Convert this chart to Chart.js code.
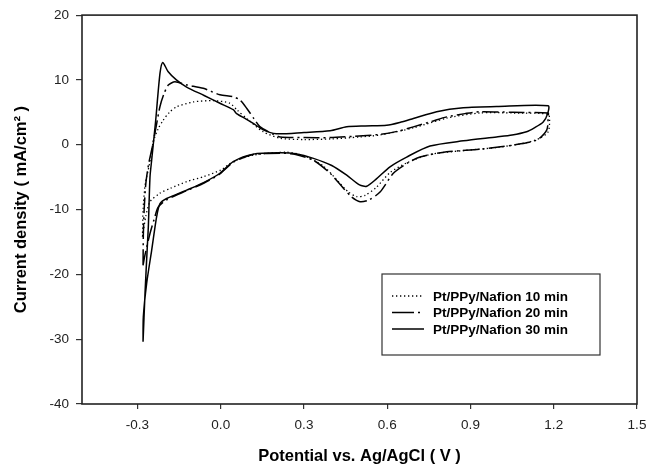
<!DOCTYPE html>
<html>
<head>
<meta charset="utf-8">
<script src="https://cdn.jsdelivr.net/npm/chart.js@4.4.0/dist/chart.umd.min.js"></script>
<style>
  html, body { margin: 0; background: #fff; }
</style>
</head>
<body>
<canvas id="cvChart" width="662" height="470"></canvas>
<script>
// Potential (V) and current density (mA/cm2), one full sweep per film
const v10 = [-0.282, -0.280, -0.272, -0.262, -0.252, -0.243, -0.225, -0.207, -0.185, -0.159, -0.099, -0.027, 0.033, 0.060, 0.100, 0.153, 0.214, 0.300, 0.400, 0.500, 0.574, 0.694, 0.814, 0.934, 1.054, 1.180,
  1.185, 1.180, 1.150, 1.100, 1.000, 0.874, 0.754, 0.670, 0.610, 0.560, 0.520, 0.490, 0.460, 0.420, 0.370, 0.300, 0.238, 0.117, 0.045, 0.000, -0.060, -0.123, -0.180, -0.220, -0.255, -0.270, -0.282];
const j10 = [-14.2, -10.0, -6.0, -4.0, -2.0, 0.5, 2.5, 3.8, 5.0, 5.85, 6.6, 6.8, 6.4, 5.3, 3.8, 2.0, 1.0, 0.8, 0.9, 1.2, 1.5, 2.6, 4.1, 4.9, 4.9, 4.7,
  3.8, 2.0, 1.0, 0.3, -0.4, -0.9, -1.5, -2.8, -4.3, -6.6, -7.8, -8.0, -7.3, -5.5, -3.3, -1.7, -1.15, -1.6, -2.6, -3.9, -4.9, -5.7, -6.7, -7.5, -8.8, -11.0, -14.2];

const v20 = [-0.280, -0.279, -0.276, -0.270, -0.260, -0.245, -0.232, -0.219, -0.205, -0.189, -0.165, -0.120, -0.063, -0.003, 0.045, 0.069, 0.094, 0.120, 0.141, 0.190, 0.214, 0.300, 0.394, 0.480, 0.574, 0.640, 0.694, 0.760, 0.814, 0.880, 0.934, 1.054, 1.180,
  1.180, 1.175, 1.138, 1.054, 0.934, 0.814, 0.718, 0.670, 0.622, 0.574, 0.535, 0.502, 0.470, 0.442, 0.394, 0.334, 0.270, 0.214, 0.117, 0.045, -0.003, -0.060, -0.123, -0.195, -0.225, -0.240, -0.255, -0.273, -0.280];
const j20 = [-18.6, -14.0, -10.0, -6.0, -3.0, 0.0, 3.0, 5.9, 7.8, 9.2, 9.7, 9.2, 8.7, 7.7, 7.4, 6.9, 5.6, 4.0, 2.8, 1.6, 1.2, 1.1, 1.1, 1.3, 1.6, 2.1, 2.76, 3.6, 4.3, 4.8, 5.1, 5.0, 4.9,
  4.5, 2.3, 0.7, -0.05, -0.7, -1.1, -1.9, -2.9, -4.4, -7.3, -8.5, -8.8, -8.0, -6.7, -4.4, -2.4, -1.5, -1.3, -1.5, -2.7, -4.5, -5.9, -7.1, -8.5, -9.6, -11.5, -13.7, -17.0, -18.6];

const v30 = [-0.280, -0.273, -0.265, -0.261, -0.255, -0.249, -0.235, -0.219, -0.209, -0.190, -0.160, -0.123, -0.060, -0.003, 0.045, 0.057, 0.090, 0.117, 0.153, 0.200, 0.300, 0.394, 0.454, 0.520, 0.598, 0.650, 0.694, 0.778, 0.874, 0.994, 1.180,
  1.178, 1.162, 1.130, 1.102, 1.050, 0.994, 0.874, 0.754, 0.670, 0.610, 0.560, 0.526, 0.500, 0.454, 0.400, 0.334, 0.270, 0.214, 0.117, 0.045, -0.003, -0.060, -0.123, -0.195, -0.219, -0.231, -0.249, -0.267, -0.279, -0.280];
const j30 = [-30.4, -23.0, -16.0, -12.7, -5.0, -2.4, 3.5, 11.0, 12.7, 11.3, 10.0, 8.9, 7.6, 6.4, 5.4, 4.8, 4.0, 3.3, 2.3, 1.7, 1.9, 2.15, 2.76, 2.9, 3.0, 3.5, 4.05, 5.1, 5.7, 5.9, 6.0,
  4.8, 3.5, 2.6, 2.0, 1.5, 1.2, 0.6, -0.2, -1.9, -3.4, -5.3, -6.4, -6.2, -4.7, -3.2, -2.1, -1.4, -1.25, -1.45, -2.6, -4.4, -5.8, -7.0, -8.3, -9.1, -11.1, -16.3, -21.4, -26.6, -30.4];

const seriesLabels = ['Pt/PPy/Nafion 10 min', 'Pt/PPy/Nafion 20 min', 'Pt/PPy/Nafion 30 min'];
const xTicks = [-0.3, 0.0, 0.3, 0.6, 0.9, 1.2, 1.5];
const yTicks = [-40, -30, -20, -10, 0, 10, 20];

const FONT = '"Liberation Sans", Arial, sans-serif';
const zip = (xs, ys) => xs.map((x, i) => ({ x, y: ys[i] }));

function line(label, pts, dash, width) {
  return {
    label, data: pts, showLine: true, pointRadius: 0, borderColor: '#000',
    borderWidth: width, borderDash: dash, tension: 0.25, fill: false,
  };
}

// frame round the plot + legend box inside it
const framePlugin = {
  id: 'frame',
  afterDatasetsDraw(chart) {
    const { ctx, chartArea: a } = chart;
    ctx.save();
    ctx.strokeStyle = '#222';
    ctx.lineWidth = 1.6;
    ctx.strokeRect(a.left, a.top, a.right - a.left, a.bottom - a.top);

    // legend
    const bx = 382, by = 274, bw = 218, bh = 81;
    ctx.fillStyle = '#fff';
    ctx.fillRect(bx, by, bw, bh);
    ctx.lineWidth = 1.2;
    ctx.strokeStyle = '#333';
    ctx.strokeRect(bx, by, bw, bh);
    ctx.font = 'bold 13.5px ' + FONT;
    ctx.textBaseline = 'middle';
    chart.data.datasets.forEach((ds, i) => {
      const y = by + 22 + i * 16.5;
      ctx.strokeStyle = '#000';
      ctx.lineWidth = ds.borderWidth;
      ctx.setLineDash(i === 1 ? [22, 4, 2, 10] : ds.borderDash);
      ctx.beginPath();
      ctx.moveTo(bx + 10, y);
      ctx.lineTo(bx + 42, y);
      ctx.stroke();
      ctx.setLineDash([]);
      ctx.fillStyle = '#000';
      ctx.fillText(ds.label, bx + 51, y + 1);
    });
    ctx.restore();
  },
};

new Chart(document.getElementById('cvChart'), {
  type: 'scatter',
  data: {
    datasets: [
      line(seriesLabels[0], zip(v10, j10), [1.3, 2.7], 1.3),
      line(seriesLabels[1], zip(v20, j20), [16, 4, 2, 4], 1.5),
      line(seriesLabels[2], zip(v30, j30), [], 1.5),
    ],
  },
  options: {
    responsive: false,
    animation: false,
    devicePixelRatio: 1,
    layout: { padding: { top: 15, right: 25, left: 8, bottom: 0 } },
    plugins: { legend: { display: false }, tooltip: { enabled: false } },
    scales: {
      x: {
        type: 'linear', min: -0.5, max: 1.5,
        afterBuildTicks: s => { s.ticks = xTicks.map(value => ({ value })); },
        afterFit: s => { s.height = 66; },
        border: { display: false },
        grid: { drawOnChartArea: false, drawTicks: true, tickLength: 5, color: '#333', lineWidth: 1.2 },
        ticks: { color: '#222', font: { family: FONT, size: 13.5 }, padding: 8, maxRotation: 0, callback: v => v.toFixed(1) },
        title: { display: true, text: 'Potential vs. Ag/AgCl ( V )', color: '#000', font: { family: FONT, size: 16.5, weight: 'bold' }, padding: { top: 8 } },
      },
      y: {
        type: 'linear', min: -40, max: 20,
        afterBuildTicks: s => { s.ticks = yTicks.map(value => ({ value })); },
        afterFit: s => { s.width = 74; },
        border: { display: false },
        grid: { drawOnChartArea: false, drawTicks: true, tickLength: 6, color: '#333', lineWidth: 1.2 },
        ticks: { color: '#222', font: { family: FONT, size: 13.5 }, padding: 7 },
        title: { display: true, text: 'Current density ( mA/cm\u00B2 )', color: '#000', font: { family: FONT, size: 16.5, weight: 'bold' }, padding: { bottom: 4 } },
      },
    },
  },
  plugins: [framePlugin],
});
</script>
</body>
</html>
